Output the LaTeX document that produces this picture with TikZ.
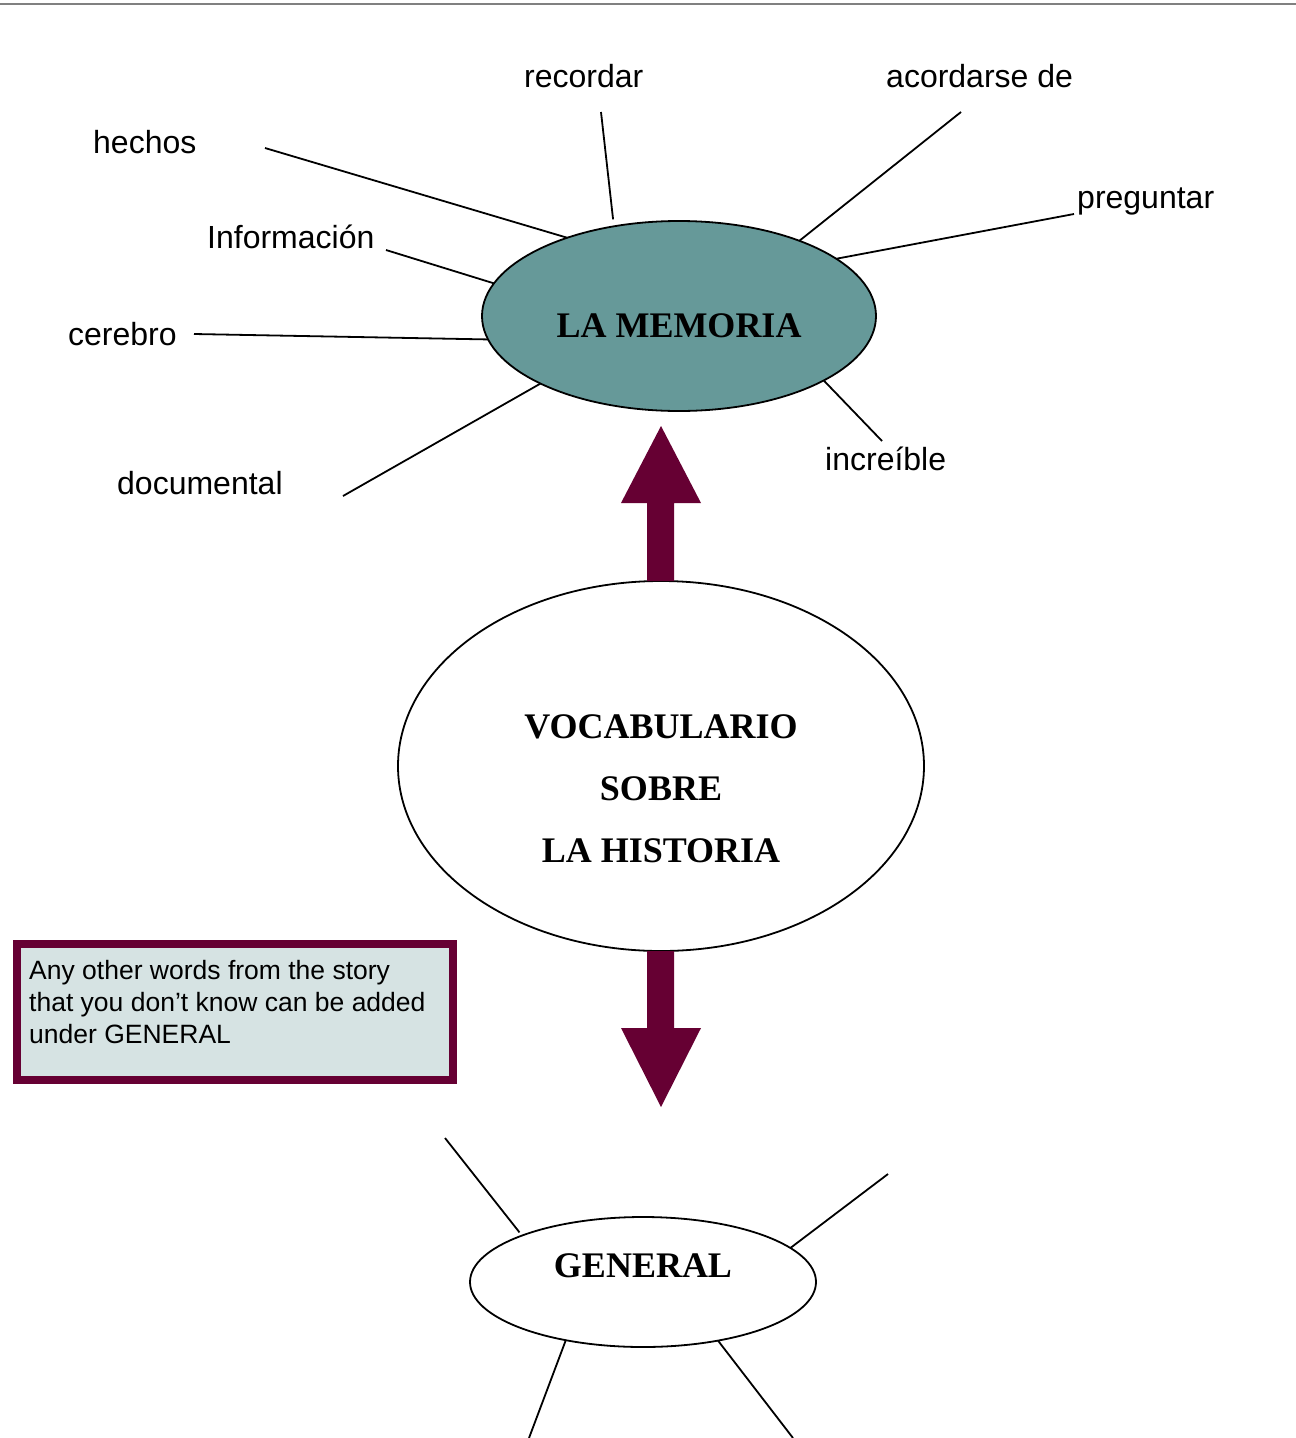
\documentclass[tikz,border=0pt]{standalone}
\usepackage{fontspec}
\setmainfont{Liberation Serif}
\setsansfont{Liberation Sans}
\usetikzlibrary{shapes.geometric}
\definecolor{tealfill}{HTML}{669999}
\definecolor{wine}{HTML}{660033}
\definecolor{boxfill}{HTML}{D6E3E3}
\definecolor{rulegray}{HTML}{808080}
\begin{document}
\begin{tikzpicture}[x=1pt,y=-1pt,
  bubble/.style={ellipse, draw=black, line width=1.8pt, inner sep=0pt, outer sep=0pt,
    font=\fontsize{36}{62}\selectfont\bfseries},
  spoke/.style={draw=black, line width=1.8pt},
  word/.style={anchor=base west, inner sep=0pt, font=\sffamily\fontsize{32}{38}\selectfont},
  bigarrow/.style={fill=wine},
  notebox/.style={draw=wine, line width=8pt, fill=boxfill, anchor=north west, inner sep=0pt,
    outer sep=0pt, minimum width=436pt, minimum height=136pt},
  notetext/.style={anchor=base west, inner sep=0pt, align=left,
    font=\sffamily\fontsize{26.5}{32}\selectfont}]
\useasboundingbox (0,0) rectangle (1296,1438);
\draw[rulegray, line width=2pt] (0,4) -- (1296,4);

% La memoria
\node[bubble, fill=tealfill, minimum width=394pt, minimum height=190pt,
      text height=42pt, text depth=0pt] (mem) at (679,316) {LA MEMORIA};

\node[word] (recordar) at (524,87) {recordar};
\node[word] (acordarse) at (886,87) {acordarse de};
\node[word] (hechos) at (93,153) {hechos};
\node[word] (preguntar) at (1077,208) {preguntar};
\node[word] (informacion) at (207,248) {Información};
\node[word] (cerebro) at (68,345) {cerebro};
\node[word] (documental) at (117,494) {documental};
\node[word] (increible) at (825,470) {increíble};

\coordinate (cRec) at (601,112);
\coordinate (cAco) at (961,112);
\coordinate (cHec) at (265,148);
\coordinate (cPre) at (1074,214);
\coordinate (cInf) at (386,250);
\coordinate (cCer) at (194,334);
\coordinate (cDoc) at (343,496);
\coordinate (cInc) at (882,441);

\draw[spoke, shorten >=7pt] (cRec) -- (mem.126);
\draw[spoke] (cAco) -- (mem.32.7);
\draw[spoke] (cHec) -- (mem.145.3);
\draw[spoke] (cPre) -- (mem.20.5);
\draw[spoke] (cInf) -- (mem.170.6);
\draw[spoke] (cCer) -- (mem.187.1);
\draw[spoke] (cDoc) -- (mem.206.6);
\draw[spoke] (cInc) -- (mem.336.4);

% Vocabulario
\node[bubble, fill=white, minimum width=526pt, minimum height=370pt, align=center,
      text height=192pt, text depth=0pt] (voc) at (661,766)
      {VOCABULARIO\\SOBRE\\LA HISTORIA};

% arrows
\fill[bigarrow] (647,581) -- (647,503) -- (621,503) -- (661,426) -- (701,503)
   -- (674,503) -- (674,581) -- cycle;
\fill[bigarrow] (647,951) -- (647,1028) -- (621,1028) -- (661,1107) -- (701,1028)
   -- (674,1028) -- (674,951) -- cycle;

% note box
\node[notebox] (box) at (17,944) {};
\node[notetext] (note) at (29,1043)
  {Any other words from the story\\that you don’t know can be added\\under GENERAL};

% General
\node[bubble, fill=white, minimum width=346pt, minimum height=130pt,
      text height=0pt, text depth=10pt] (gen) at (643,1282) {GENERAL};
\coordinate (gA) at (445,1138);
\coordinate (gB) at (888,1174);
\coordinate (gC) at (529,1438);
\coordinate (gD) at (793,1438);
\draw[spoke, shorten >=4pt] (gA) -- (gen.159.7);
\draw[spoke] (gB) -- (gen.13.9);
\draw[spoke] (gC) -- (gen.217.2);
\draw[spoke] (gD) -- (gen.322.4);
\end{tikzpicture}
\end{document}
